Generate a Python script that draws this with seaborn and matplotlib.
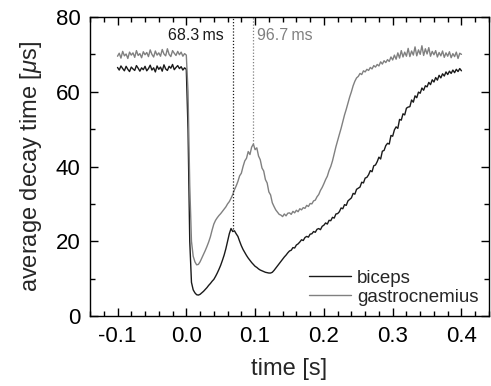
import numpy as np
import pandas as pd
import matplotlib
matplotlib.use("Agg")
import matplotlib.pyplot as plt
from matplotlib.ticker import MultipleLocator
import seaborn as sns

# --- data (0.0025 s sampling, -0.1 ... 0.4 s) ---
t_start, t_stop, n_samples = -0.1, 0.4, 201

biceps = [
    # -0.1 ... 0.0 (baseline)
    66.5, 65.8, 66.9, 66.2, 65.6, 66.8, 66.0, 65.4, 66.6, 66.1,
    65.7, 67.0, 66.3, 65.5, 66.4, 65.9, 66.8, 65.6, 66.2, 67.1,
    65.8, 66.4, 65.3, 66.9, 66.0, 66.6, 65.5, 67.2, 66.1, 65.7,
    66.8, 66.3, 67.3, 65.9, 66.5, 67.0, 66.2, 66.7, 65.8, 66.4,
    66.0,
    # 0.0025 ... 0.15
    50.0, 20.0, 9.0, 7.0, 6.2, 5.7, 5.6, 5.8, 6.2, 6.6,
    7.1, 7.6, 8.2, 8.7, 9.3, 9.8, 10.6, 11.5, 12.5, 13.6,
    14.9, 16.3, 18.0, 20.0, 22.0, 23.4, 22.6, 22.8, 22.0, 21.3,
    20.0, 18.8, 17.8, 17.0, 16.2, 15.5, 14.9, 14.3, 13.8, 13.3,
    13.0, 12.6, 12.3, 12.1, 11.9, 11.7, 11.6, 11.5, 11.5, 11.7,
    12.2, 12.8, 13.4, 14.0, 14.6, 15.2, 15.8, 16.3, 16.9, 17.4,
    # 0.1525 ... 0.4
    17.6, 18.3, 18.2, 19.0, 19.3, 19.8, 20.4, 20.2, 21.0, 21.3,
    21.1, 21.9, 22.0, 22.6, 22.4, 23.2, 23.4, 23.1, 24.0, 24.3,
    24.9, 24.6, 25.6, 25.5, 26.4, 26.2, 27.3, 27.4, 27.9, 28.9,
    28.7, 29.8, 29.6, 30.8, 31.2, 31.6, 32.8, 32.6, 33.9, 34.2,
    34.5, 35.8, 35.6, 36.9, 37.1, 37.8, 38.9, 38.6, 40.2, 40.4,
    41.3, 42.5, 42.0, 44.1, 44.3, 45.6, 46.2, 46.0, 48.3, 48.1,
    49.8, 50.6, 50.2, 52.6, 52.4, 54.1, 53.8, 55.6, 55.9, 56.0,
    57.8, 57.2, 58.9, 58.4, 59.9, 59.6, 61.0, 60.4, 61.6, 61.3,
    62.5, 61.9, 63.2, 62.6, 63.8, 63.1, 64.4, 63.7, 64.8, 64.2,
    65.3, 64.6, 65.5, 64.9, 65.8, 65.1, 66.0, 65.4, 66.2, 65.6,
]

gastrocnemius = [
    # -0.1 ... 0.0 (baseline)
    69.5, 70.3, 69.0, 70.8, 69.6, 70.1, 68.9, 70.6, 69.8, 70.4,
    69.2, 71.0, 69.7, 70.2, 69.1, 70.7, 69.9, 70.5, 69.4, 71.2,
    70.0, 69.3, 70.9, 69.8, 70.4, 69.5, 71.3, 70.1, 69.6, 71.5,
    70.0, 69.4, 71.0, 70.3, 69.7, 70.8, 69.9, 70.6, 69.5, 70.2,
    69.8,
    # 0.0025 ... 0.15
    60.0, 35.0, 20.0, 16.0, 14.5, 13.7, 13.8, 14.5, 15.5, 16.5,
    17.5, 18.6, 19.8, 21.2, 23.0, 24.6, 25.6, 26.3, 26.9, 27.4,
    28.0, 28.6, 29.2, 30.0, 30.6, 31.5, 32.5, 33.8, 34.8, 36.0,
    37.5, 38.2, 40.0, 41.5, 42.2, 44.0, 43.2, 45.2, 46.0, 44.5,
    45.0, 42.8, 41.8, 39.6, 38.8, 36.5, 35.6, 33.2, 32.4, 30.3,
    29.3, 28.4, 27.8, 27.2, 27.0, 26.6, 27.3, 26.8, 27.5, 27.6,
    # 0.1525 ... 0.4
    27.2, 28.0, 27.6, 28.3, 27.9, 28.7, 28.4, 29.0, 28.8, 29.6,
    29.3, 30.1, 30.0, 30.8, 31.0, 31.9, 32.5, 33.6, 34.4, 35.4,
    36.5, 37.4, 38.9, 40.0, 41.5, 43.4, 45.3, 47.0, 48.6, 50.2,
    52.0, 53.8, 55.3, 57.0, 58.6, 60.0, 61.6, 62.8, 63.7, 64.1,
    64.9, 64.6, 65.6, 65.3, 66.0, 65.7, 66.5, 66.1, 67.0, 66.6,
    67.3, 66.9, 68.0, 67.4, 68.3, 67.8, 68.6, 68.1, 69.3, 68.5,
    69.8, 68.7, 70.4, 69.0, 71.0, 69.3, 70.6, 69.5, 71.6, 69.4,
    70.9, 69.8, 72.0, 69.6, 71.2, 70.0, 72.3, 69.7, 71.5, 70.1,
    71.8, 69.5, 70.8, 69.9, 71.0, 69.3, 70.5, 69.6, 70.9, 69.2,
    70.4, 69.5, 70.7, 69.1, 70.2, 69.4, 70.6, 68.9, 70.3, 70.0,
]

muscles = ["biceps", "gastrocnemius"]
line_colors = ["#1a1a1a", "#808080"]
peak_times = [0.0683, 0.0967]
peak_values = [23.4, 46.0]
peak_labels = ["68.3\u2009ms", "96.7\u2009ms"]

time = np.linspace(t_start, t_stop, n_samples)
df = pd.DataFrame({
    "time": np.concatenate([time, time]),
    "decay": np.concatenate([biceps, gastrocnemius]),
    "muscle": np.repeat(muscles, n_samples),
})

# --- style ---
sns.set_style("ticks")
plt.rcParams["font.family"] = ["Liberation Sans", "DejaVu Sans"]
plt.rcParams["mathtext.fontset"] = "custom"
plt.rcParams["mathtext.it"] = "Liberation Sans:italic"
plt.rcParams["mathtext.rm"] = "Liberation Sans"
plt.rcParams["axes.unicode_minus"] = False

fig = plt.figure(figsize=(4.91, 3.86), dpi=100)
ax = fig.add_axes([0.1833, 0.1813, 0.8126, 0.7747])

sns.lineplot(data=df, x="time", y="decay", hue="muscle", hue_order=muscles,
             palette=dict(zip(muscles, line_colors)), linewidth=1.0,
             estimator=None, ax=ax)

for pt, pv, lab, col in zip(peak_times, peak_values, peak_labels, line_colors):
    ax.vlines(pt, pv, 80, colors=col, linestyles=(0, (1, 1.5)), linewidth=0.9)
    if col == line_colors[0]:
        ax.text(pt - 0.014, 75, lab, ha="right", va="center", fontsize=11.5, color=col)
    else:
        ax.text(pt + 0.006, 75, lab, ha="left", va="center", fontsize=11.5, color=col)

ax.set_xlim(-0.14, 0.44)
ax.set_ylim(0, 80)
ax.xaxis.set_major_locator(MultipleLocator(0.1))
ax.xaxis.set_minor_locator(MultipleLocator(0.02))
ax.yaxis.set_major_locator(MultipleLocator(20))
ax.yaxis.set_minor_locator(MultipleLocator(10))
ax.tick_params(which="both", direction="in", top=True, right=True, width=1,
               labelsize=16, colors="black")
ax.tick_params(which="major", length=6, pad=7)
ax.tick_params(which="minor", length=3.5)
for sp in ax.spines.values():
    sp.set_linewidth(1.0)
    sp.set_color("black")

ax.set_xlabel("time [s]", fontsize=17, labelpad=8)
ax.set_ylabel(r"average decay time [$\mu$s]", fontsize=17, labelpad=8)

leg = ax.legend(loc="lower right", frameon=False, fontsize=13.5, handlelength=2.2,
                handletextpad=0.35, labelspacing=0.1, borderaxespad=0.15)
for h in leg.get_lines():
    h.set_linewidth(1.0)

fig.savefig("out.png", dpi=100)
